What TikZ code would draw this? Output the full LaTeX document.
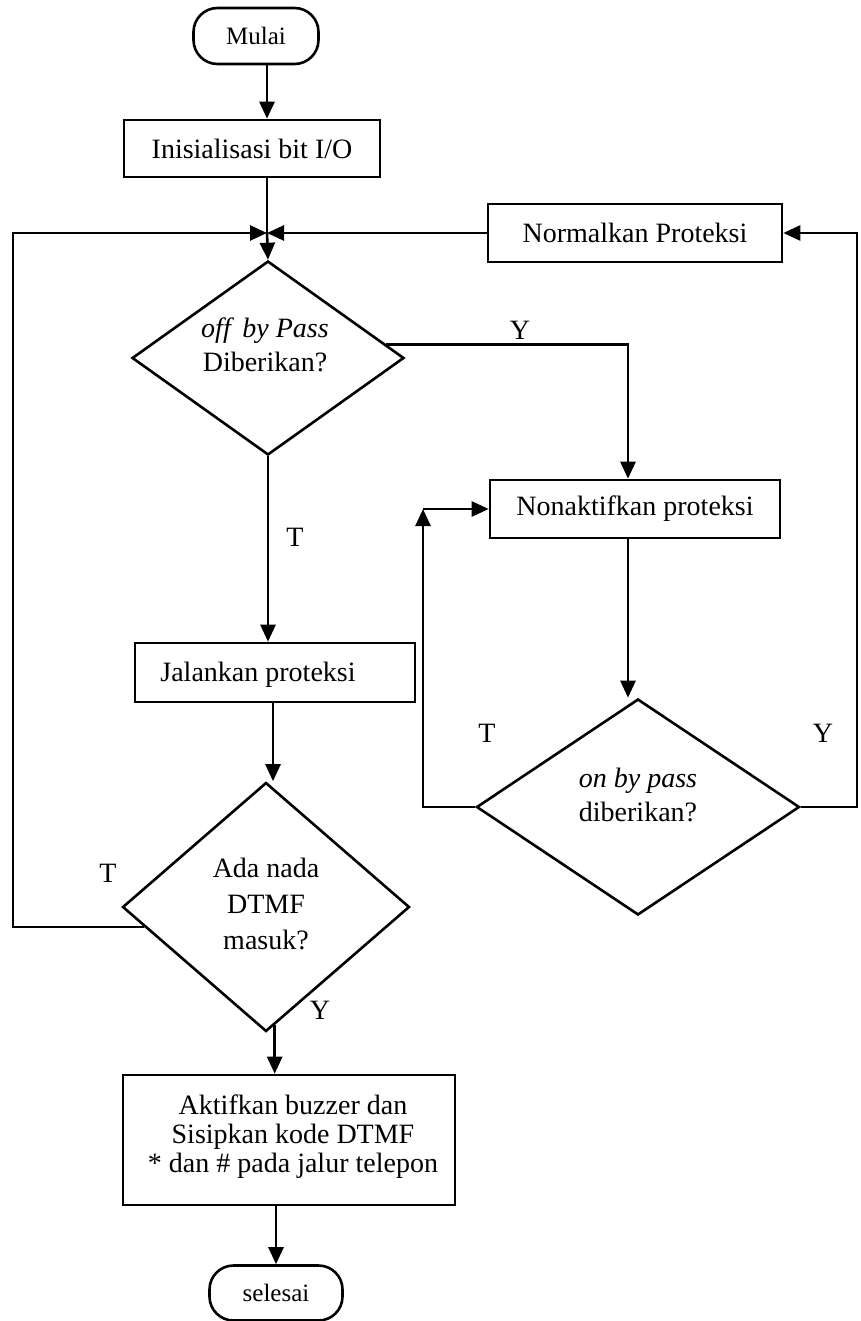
\documentclass[tikz,border=0pt]{standalone}
\usepackage{fontspec}
\setmainfont{Liberation Serif}
\usetikzlibrary{arrows.meta,shapes.geometric,calc}
\begin{document}
\begin{tikzpicture}[x=1pt,y=-1pt,
  line width=2.6pt,
  txt/.style={font=\fontsize{28}{34}\selectfont, align=center, inner sep=0},
  proc/.style={draw, rectangle, inner sep=0, font=\fontsize{28}{30}\selectfont, align=center},
  term/.style={draw, rectangle, rounded corners=24pt, inner sep=0, font=\fontsize{25}{30}\selectfont},
  dec/.style={draw, diamond, inner sep=0},
  arr/.style={-{Triangle[length=17pt,width=15pt]}},
  lbl/.style={font=\fontsize{28}{30}\selectfont, inner sep=0}]
\useasboundingbox (0,0) rectangle (860,1321);

% nodes
\node[term, minimum width=125pt, minimum height=56pt] (mulai) at (256,36) {Mulai};
\node[proc, minimum width=256pt, minimum height=57pt] (init) at (252,148.5) {Inisialisasi bit I/O};
\node[proc, minimum width=294pt, minimum height=58pt] (norm) at (635,233) {Normalkan Proteksi};
\node[dec, minimum width=272pt, minimum height=194pt] (d1) at (268,358) {};
\node[txt] (d1t) at (265,345) {\textit{off\, by Pass}\\Diberikan?};
\node[proc, minimum width=290pt, minimum height=58pt] (nonak) at (635,509) {Nonaktifkan proteksi};
\node[proc, minimum width=280pt, minimum height=59pt] (jal) at (275,672.5) {};
\node[txt] (jalt) at (258,675) {Jalankan proteksi};
\node[dec, minimum width=323pt, minimum height=216pt] (d4) at (638,807) {};
\node[txt] (d4t) at (638,795) {\textit{on by pass}\\diberikan?};
\node[dec, minimum width=287pt, minimum height=249pt] (d2) at (266,907) {};
\node[txt, font=\fontsize{28}{36}\selectfont] (d2t) at (266,904) {Ada nada\\DTMF\\masuk?};
\node[proc, minimum width=332pt, minimum height=130pt] (akt) at (289,1140) {};
\node[txt, font=\fontsize{28}{29}\selectfont] (aktt) at (293,1137) {Aktifkan buzzer dan\\Sisipkan kode DTMF\\* dan \# pada jalur telepon};
\node[term, minimum width=133pt, minimum height=55pt] (sel) at (276,1293) {selesai};

% labels
\node[lbl] (ly1) at (520,330) {Y};
\node[lbl] (lt1) at (295,537) {T};
\node[lbl] (lt2) at (487,733) {T};
\node[lbl] (ly2) at (823,733) {Y};
\node[lbl] (lt3) at (108,873) {T};
\node[lbl] (ly3) at (320,1010) {Y};

% coordinates
\coordinate (m) at (267,233);
\coordinate (lb) at (13,927);
\coordinate (lt) at (13,233);
\coordinate (rb) at (857,807);
\coordinate (rt) at (857,233);
\coordinate (yc) at (628,0);
\coordinate (jc) at (273,0);
\coordinate (tl) at (423,807);
\coordinate (tt) at (423,509);
\coordinate (ys) at ($(d1.east)!0.14!(d1.north)$);
\coordinate (ya) at ($(d2.south)!0.06!(d2.east)$);
\coordinate (dl) at ($(d2.west)!0.16!(d2.south)$);

% connectors
\draw[arr] (mulai.south -| m) -- (m |- init.north);
\draw (init.south -| m) -- (m);
\draw[arr] (m) -- (d1.north);
\draw[arr] (norm.west) -- (m);
\draw[arr] (d4.east) -- (rb) -- (rt) -- (norm.east);
\draw[arr] (dl) -- (dl -| lb) -- (lt) -- (m);
\draw[arr] (ys) -- (ys -| yc) -- (yc |- nonak.north);
\draw[arr] (yc |- nonak.south) -- (yc |- d4.north);
\draw[arr] (d4.west) -- (tl) -- (tt);
\draw[arr] (tt) -- (nonak.west);
\draw[arr] (d1.south) -- (d1.south |- jal.north);
\draw[arr] (jc |- jal.south) -- (jc |- d2.north);
\draw[arr] (ya) -- (ya |- akt.north);
\draw[arr] (akt.south -| sel.north) -- (sel.north);
\end{tikzpicture}
\end{document}
